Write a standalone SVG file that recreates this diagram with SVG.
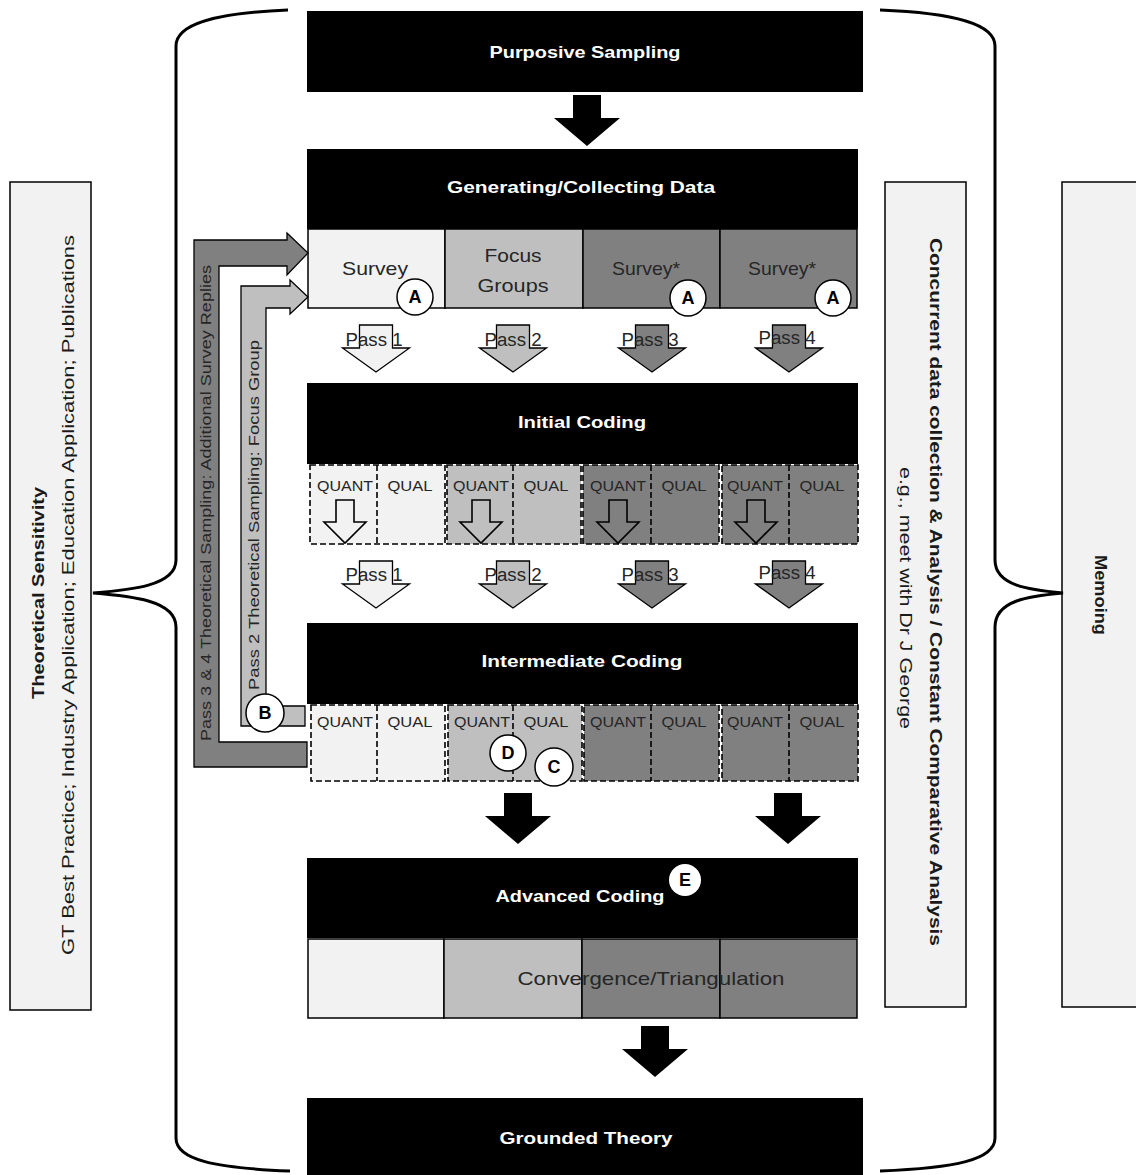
<svg xmlns="http://www.w3.org/2000/svg" width="1136" height="1175" viewBox="0 0 1136 1175">
  <style>
    text { font-family: "Liberation Sans", Arial, sans-serif; dominant-baseline: central; text-anchor: middle; }
    .title { font-weight: bold; font-size: 17px; fill: #ffffff; }
    .cell { font-size: 19px; fill: #262626; }
    .qa { font-size: 15px; fill: #262626; }
    .pass { font-size: 18px; fill: #262626; }
    .side { font-size: 17px; fill: #1a1a1a; }
    .sideb { font-size: 17px; font-weight: bold; fill: #1a1a1a; }
    .loop { font-size: 14px; fill: #262626; }
    .badge { font-size: 18px; font-weight: bold; fill: #000; }
    .blk { fill: #000; }
    .c1 { fill: #f2f2f2; }
    .c2 { fill: #bfbfbf; }
    .c3 { fill: #808080; }
    .solid { stroke: #000; stroke-width: 1.5; }
    .dash { stroke: #000; stroke-width: 1.6; stroke-dasharray: 6 3; fill: none; }
    .brace { fill: none; stroke: #000; stroke-width: 3; }
    .circ { fill: #fff; stroke: #000; stroke-width: 1.5; }
    .panel { fill: #f2f2f2; stroke: #000; stroke-width: 1.5; }
  </style>
  <defs>
    <!-- solid black flow arrow, origin at top centre -->
    <path id="bigArrow" d="M -14,0 L 14,0 L 14,23 L 33,23 L 0,51 L -33,23 L -14,23 Z" fill="#000"/>
    <!-- outlined pass arrow, origin at top centre -->
    <path id="passArrow" d="M -16.5,0 L 16.5,0 L 16.5,23 L 33.5,23 L 0,47 L -33.5,23 L -16.5,23 Z" stroke="#000" stroke-width="1.3"/>
    <!-- small hollow arrow inside QUANT cells -->
    <path id="smallArrow" d="M -9,0 L 9,0 L 9,22 L 21,22 L 0,43 L -21,22 L -9,22 Z" fill="none" stroke="#000" stroke-width="1.6"/>
  </defs>

  <!-- side panels -->
  <g id="theoretical-sensitivity">
    <rect class="panel" x="10" y="182" width="81" height="828"/>
    <text class="sideb" transform="translate(38,593) rotate(-90)" textLength="212" lengthAdjust="spacingAndGlyphs">Theoretical Sensitivity</text>
    <text class="side" transform="translate(68,595) rotate(-90)" textLength="720" lengthAdjust="spacingAndGlyphs">GT Best Practice; Industry Application; Education Application; Publications</text>
  </g>
  <g id="concurrent-analysis">
    <rect class="panel" x="885" y="182" width="81" height="825"/>
    <text class="sideb" transform="translate(935,592) rotate(90)" textLength="708" lengthAdjust="spacingAndGlyphs">Concurrent data collection &amp; Analysis / Constant Comparative Analysis</text>
    <text class="side" transform="translate(905,598) rotate(90)" textLength="262" lengthAdjust="spacingAndGlyphs">e.g., meet with Dr J George</text>
  </g>
  <g id="memoing">
    <rect class="panel" x="1062" y="182" width="80" height="825"/>
    <text class="sideb" transform="translate(1100,595) rotate(90)" textLength="80" lengthAdjust="spacingAndGlyphs">Memoing</text>
  </g>

  <!-- main stages -->
  <g id="purposive-sampling">
    <rect class="blk" x="307" y="11" width="556" height="81"/>
    <text class="title" x="585" y="52" textLength="191" lengthAdjust="spacingAndGlyphs">Purposive Sampling</text>
  </g>

  <g id="generating-data">
    <rect class="blk" x="307" y="149" width="551" height="80"/>
    <text class="title" x="581" y="187" textLength="268" lengthAdjust="spacingAndGlyphs">Generating/Collecting Data</text>
    <rect class="c1 solid" x="308" y="229" width="137" height="79"/>
    <rect class="c2 solid" x="445" y="229" width="138" height="79"/>
    <rect class="c3 solid" x="583" y="229" width="137" height="79"/>
    <rect class="c3 solid" x="720" y="229" width="137" height="79"/>
    <text class="cell" x="375" y="268" textLength="66" lengthAdjust="spacingAndGlyphs">Survey</text>
    <text class="cell" x="513" y="255" textLength="57" lengthAdjust="spacingAndGlyphs">Focus</text>
    <text class="cell" x="513" y="285" textLength="71" lengthAdjust="spacingAndGlyphs">Groups</text>
    <text class="cell" x="646" y="268" textLength="68" lengthAdjust="spacingAndGlyphs">Survey*</text>
    <text class="cell" x="782" y="268" textLength="68" lengthAdjust="spacingAndGlyphs">Survey*</text>
  </g>

  <g id="initial-coding">
    <rect class="blk" x="307" y="383" width="551" height="81"/>
    <text class="title" x="582" y="422" textLength="128" lengthAdjust="spacingAndGlyphs">Initial Coding</text>
    <rect class="c1" x="310" y="465" width="135" height="79"/>
    <rect class="c2" x="447" y="465" width="134" height="79"/>
    <rect class="c3" x="583" y="465" width="136" height="79"/>
    <rect class="c3" x="722" y="465" width="136" height="79"/>
    <rect class="dash" x="310" y="465" width="135" height="79"/>
    <rect class="dash" x="447" y="465" width="134" height="79"/>
    <rect class="dash" x="583" y="465" width="136" height="79"/>
    <rect class="dash" x="722" y="465" width="136" height="79"/>
    <line class="dash" x1="377" y1="465" x2="377" y2="544"/>
    <line class="dash" x1="513" y1="465" x2="513" y2="544"/>
    <line class="dash" x1="651" y1="465" x2="651" y2="544"/>
    <line class="dash" x1="789" y1="465" x2="789" y2="544"/>
    <text class="qa" x="345" y="485" textLength="56" lengthAdjust="spacingAndGlyphs">QUANT</text>
    <text class="qa" x="410" y="485" textLength="45" lengthAdjust="spacingAndGlyphs">QUAL</text>
    <text class="qa" x="481" y="485" textLength="56" lengthAdjust="spacingAndGlyphs">QUANT</text>
    <text class="qa" x="546" y="485" textLength="45" lengthAdjust="spacingAndGlyphs">QUAL</text>
    <text class="qa" x="618" y="485" textLength="56" lengthAdjust="spacingAndGlyphs">QUANT</text>
    <text class="qa" x="684" y="485" textLength="45" lengthAdjust="spacingAndGlyphs">QUAL</text>
    <text class="qa" x="755" y="485" textLength="56" lengthAdjust="spacingAndGlyphs">QUANT</text>
    <text class="qa" x="822" y="485" textLength="45" lengthAdjust="spacingAndGlyphs">QUAL</text>
    <use href="#smallArrow" x="345" y="500"/>
    <use href="#smallArrow" x="481" y="500"/>
    <use href="#smallArrow" x="618" y="500"/>
    <use href="#smallArrow" x="756" y="500"/>
  </g>

  <g id="intermediate-coding">
    <rect class="blk" x="307" y="623" width="551" height="81"/>
    <text class="title" x="582" y="661" textLength="201" lengthAdjust="spacingAndGlyphs">Intermediate Coding</text>
    <rect class="c1" x="311" y="705" width="134" height="76"/>
    <rect class="c2" x="448" y="705" width="134" height="76"/>
    <rect class="c3" x="584" y="705" width="135" height="76"/>
    <rect class="c3" x="722" y="705" width="136" height="76"/>
    <rect class="dash" x="311" y="705" width="134" height="76"/>
    <rect class="dash" x="448" y="705" width="134" height="76"/>
    <rect class="dash" x="584" y="705" width="135" height="76"/>
    <rect class="dash" x="722" y="705" width="136" height="76"/>
    <line class="dash" x1="377" y1="705" x2="377" y2="781"/>
    <line class="dash" x1="513" y1="705" x2="513" y2="781"/>
    <line class="dash" x1="651" y1="705" x2="651" y2="781"/>
    <line class="dash" x1="789" y1="705" x2="789" y2="781"/>
    <text class="qa" x="345" y="721" textLength="56" lengthAdjust="spacingAndGlyphs">QUANT</text>
    <text class="qa" x="410" y="721" textLength="45" lengthAdjust="spacingAndGlyphs">QUAL</text>
    <text class="qa" x="482" y="721" textLength="56" lengthAdjust="spacingAndGlyphs">QUANT</text>
    <text class="qa" x="546" y="721" textLength="45" lengthAdjust="spacingAndGlyphs">QUAL</text>
    <text class="qa" x="618" y="721" textLength="56" lengthAdjust="spacingAndGlyphs">QUANT</text>
    <text class="qa" x="684" y="721" textLength="45" lengthAdjust="spacingAndGlyphs">QUAL</text>
    <text class="qa" x="755" y="721" textLength="56" lengthAdjust="spacingAndGlyphs">QUANT</text>
    <text class="qa" x="822" y="721" textLength="45" lengthAdjust="spacingAndGlyphs">QUAL</text>
  </g>

  <g id="advanced-coding">
    <rect class="blk" x="307" y="858" width="551" height="80"/>
    <text class="title" x="580" y="896" textLength="169" lengthAdjust="spacingAndGlyphs">Advanced Coding</text>
    <rect class="c1 solid" x="308" y="939" width="136" height="79"/>
    <rect class="c2 solid" x="444" y="939" width="138" height="79"/>
    <rect class="c3 solid" x="582" y="939" width="138" height="79"/>
    <rect class="c3 solid" x="720" y="939" width="137" height="79"/>
    <text class="cell" x="651" y="978" fill="#333" textLength="267" lengthAdjust="spacingAndGlyphs">Convergence/Triangulation</text>
  </g>

  <g id="grounded-theory">
    <rect class="blk" x="307" y="1098" width="556" height="80"/>
    <text class="title" x="586" y="1138" textLength="173" lengthAdjust="spacingAndGlyphs">Grounded Theory</text>
  </g>

  <!-- connectors -->
  <g id="connectors">
    <!-- braces -->
    <path class="brace" d="M 288,10 C 215,13 176,24 176,46 L 176,560 C 176,586 130,590 93,593 C 130,596 176,600 176,627 L 176,1138 C 176,1160 215,1168 290,1171"/>
    <path class="brace" d="M 880,10 C 955,13 995,24 995,46 L 995,560 C 995,586 1030,590 1063,593 C 1030,596 995,600 995,627 L 995,1138 C 995,1160 955,1168 880,1171"/>

    <!-- stage to stage -->
    <use href="#bigArrow" x="587" y="95"/>
    <use href="#bigArrow" x="518" y="793"/>
    <use href="#bigArrow" x="788" y="793"/>
    <use href="#bigArrow" x="655" y="1026"/>

    <!-- passes into initial coding -->
    <use href="#passArrow" x="376" y="325" fill="#f2f2f2"/>
    <use href="#passArrow" x="513" y="325" fill="#bfbfbf"/>
    <use href="#passArrow" x="652" y="325" fill="#808080"/>
    <use href="#passArrow" x="789" y="325" fill="#808080"/>
    <text class="pass" x="374" y="340" textLength="57" lengthAdjust="spacingAndGlyphs">Pass 1</text>
    <text class="pass" x="513" y="340" textLength="57" lengthAdjust="spacingAndGlyphs">Pass 2</text>
    <text class="pass" x="650" y="340" textLength="57" lengthAdjust="spacingAndGlyphs">Pass 3</text>
    <text class="pass" x="787" y="338" textLength="57" lengthAdjust="spacingAndGlyphs">Pass 4</text>

    <!-- passes into intermediate coding -->
    <use href="#passArrow" x="376" y="561" fill="#f2f2f2"/>
    <use href="#passArrow" x="513" y="561" fill="#bfbfbf"/>
    <use href="#passArrow" x="652" y="561" fill="#808080"/>
    <use href="#passArrow" x="789" y="561" fill="#808080"/>
    <text class="pass" x="374" y="575" textLength="57" lengthAdjust="spacingAndGlyphs">Pass 1</text>
    <text class="pass" x="513" y="575" textLength="57" lengthAdjust="spacingAndGlyphs">Pass 2</text>
    <text class="pass" x="650" y="575" textLength="57" lengthAdjust="spacingAndGlyphs">Pass 3</text>
    <text class="pass" x="787" y="573" textLength="57" lengthAdjust="spacingAndGlyphs">Pass 4</text>

    <!-- theoretical sampling loops back to data collection -->
    <path d="M 307,767 L 194,767 L 194,240 L 287,240 L 287,233 L 308,253 L 287,275 L 287,266 L 219,266 L 219,742 L 307,742 Z" fill="#808080" stroke="#000" stroke-width="1.3"/>
    <path d="M 305,726 L 241,726 L 241,286 L 290,286 L 290,280 L 308,297 L 290,314 L 290,308 L 266,308 L 266,706 L 305,706 Z" fill="#bfbfbf" stroke="#000" stroke-width="1.3"/>
    <text class="loop" transform="translate(206,503) rotate(-90)" textLength="476" lengthAdjust="spacingAndGlyphs">Pass 3 &amp; 4 Theoretical Sampling: Additional Survey Replies</text>
    <text class="loop" transform="translate(254,515) rotate(-90)" textLength="350" lengthAdjust="spacingAndGlyphs">Pass 2 Theoretical Sampling: Focus Group</text>
  </g>

  <!-- annotation markers -->
  <g id="markers">
    <circle class="circ" cx="415" cy="297" r="18"/>
    <text class="badge" x="415" y="297">A</text>
    <circle class="circ" cx="688" cy="298" r="18"/>
    <text class="badge" x="688" y="298">A</text>
    <circle class="circ" cx="833" cy="298" r="18"/>
    <text class="badge" x="833" y="298">A</text>
    <circle class="circ" cx="265" cy="713" r="19"/>
    <text class="badge" x="265" y="713">B</text>
    <circle class="circ" cx="508" cy="753" r="18"/>
    <text class="badge" x="508" y="753">D</text>
    <circle class="circ" cx="554" cy="767" r="19"/>
    <text class="badge" x="554" y="767">C</text>
    <circle cx="685" cy="880" r="16" fill="#fff"/>
    <text class="badge" x="685" y="880">E</text>
  </g>
</svg>
